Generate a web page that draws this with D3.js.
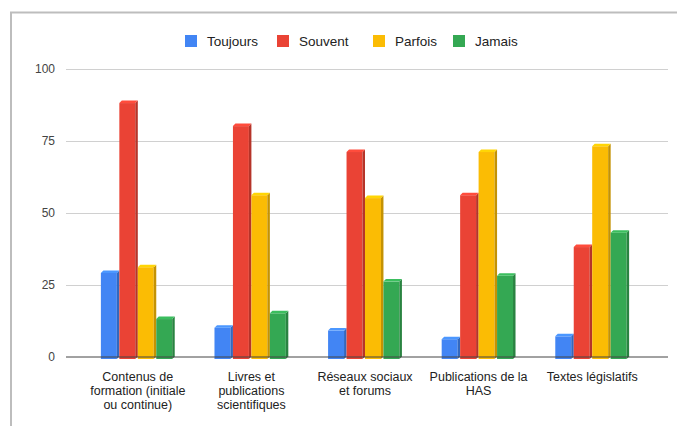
<!DOCTYPE html>
<html>
<head>
<meta charset="utf-8">
<script src="https://cdn.jsdelivr.net/npm/d3@7"></script>
<style>
  html, body { margin: 0; padding: 0; background: #fff; }
  svg { display: block; font-family: "Liberation Sans", Arial, sans-serif; }
</style>
</head>
<body>
<svg id="chart" width="677" height="426"></svg>
<script>
// Source categories (line breaks mark where the axis labels wrap)
const categories = [
  "Contenus de\nformation (initiale\nou continue)",
  "Livres et\npublications\nscientifiques",
  "Réseaux sociaux\net forums",
  "Publications de la\nHAS",
  "Textes législatifs"
];
const seriesNames = ["Toujours", "Souvent", "Parfois", "Jamais"];
const toujours = [29, 10, 9, 6, 7];
const souvent  = [88, 80, 71, 56, 38];
const parfois  = [31, 56, 55, 71, 73];
const jamais   = [13, 15, 26, 28, 43];
const yTicks = [0, 25, 50, 75, 100];
const colors = ["#4285F4", "#EA4335", "#FBBC04", "#34A853"];

const seriesValues = [toujours, souvent, parfois, jamais];
const rows = categories.map((c, i) => ({
  cat: c,
  vals: seriesNames.map((s, j) => ({ key: s, value: seriesValues[j][i], color: colors[j] }))
}));

const svg = d3.select("#chart");

// outer frame
svg.append("rect")
  .attr("x", 11).attr("y", 12.5)
  .attr("width", 720).attr("height", 450)
  .attr("fill", "#fff")
  .attr("stroke", "#bdbdbd").attr("stroke-width", 2);

const gridX0 = 66, gridX1 = 668;
const y = d3.scaleLinear().domain([0, 100]).range([356.5, 68.5]);
const x0 = d3.scaleBand().domain(categories).range([81, 649]).paddingInner(0.35).paddingOuter(0.175);
const x1 = d3.scaleBand().domain(seriesNames).range([0, x0.bandwidth()]).padding(0);

// gridlines + tick labels
const yAxis = d3.axisLeft(y).tickValues(yTicks).tickSize(0).tickPadding(0);
const gy = svg.append("g").attr("transform", `translate(55,0)`).call(yAxis);
gy.select(".domain").remove();
gy.selectAll("text").attr("font-size", 12).attr("fill", "#444")
  .attr("font-family", "Liberation Sans, Arial, sans-serif");

svg.append("g").selectAll("line")
  .data(yTicks.filter(t => t > 0))
  .join("line")
  .attr("x1", gridX0).attr("x2", gridX1)
  .attr("y1", d => Math.round(y(d)) + 0.5).attr("y2", d => Math.round(y(d)) + 0.5)
  .attr("stroke", "#d0d0d0").attr("stroke-width", 1);

// 3D-style bars: front face, darker right side, lighter top cap
const depth = 2.5;
const groups = svg.append("g").selectAll("g")
  .data(rows).join("g")
  .attr("transform", d => `translate(${x0(d.cat)},0)`);

groups.each(function (d) {
  const g = d3.select(this);
  d.vals.forEach(v => {
    const bx = x1(v.key);
    const w = x1.bandwidth();
    const top = y(v.value);
    const bottom = y(0) + 2.5;
    const c = d3.color(v.color);
    const fw = w - depth;
    g.append("rect")
      .attr("x", bx).attr("y", top)
      .attr("width", fw).attr("height", bottom - top)
      .attr("fill", v.color);
    g.append("path")
      .attr("d", `M${bx + fw},${top} L${bx + w},${top - depth} L${bx + w},${bottom - depth} L${bx + fw},${bottom} Z`)
      .attr("fill", c.darker(0.7));
    g.append("path")
      .attr("d", `M${bx},${top} L${bx + depth},${top - depth} L${bx + w},${top - depth} L${bx + fw},${top} Z`)
      .attr("fill", c.brighter(0.35));
  });
});

// baseline
svg.append("line")
  .attr("x1", gridX0).attr("x2", gridX1)
  .attr("y1", y(0) + 0.5).attr("y2", y(0) + 0.5)
  .attr("stroke", "#444").attr("stroke-width", 1);

// category labels
const xl = svg.append("g").selectAll("text")
  .data(categories).join("text")
  .attr("x", d => x0(d) + x0.bandwidth() / 2)
  .attr("y", 381)
  .attr("text-anchor", "middle")
  .attr("font-size", 12.5)
  .attr("fill", "#222");
xl.each(function (d) {
  d3.select(this).selectAll("tspan")
    .data(d.split("\n")).join("tspan")
    .attr("x", x0(d) + x0.bandwidth() / 2)
    .attr("dy", (t, i) => i === 0 ? 0 : 14)
    .text(t => t);
});

// legend
const legendX = [185, 277, 373, 453];
const legend = svg.append("g").selectAll("g")
  .data(seriesNames).join("g")
  .attr("transform", (d, i) => `translate(${legendX[i]},35)`);
legend.append("rect")
  .attr("width", 12).attr("height", 12)
  .attr("fill", (d, i) => colors[i]);
legend.append("text")
  .attr("x", 22).attr("y", 10.5)
  .attr("font-size", 13.5)
  .attr("fill", "#222")
  .text(d => d);
</script>
</body>
</html>
